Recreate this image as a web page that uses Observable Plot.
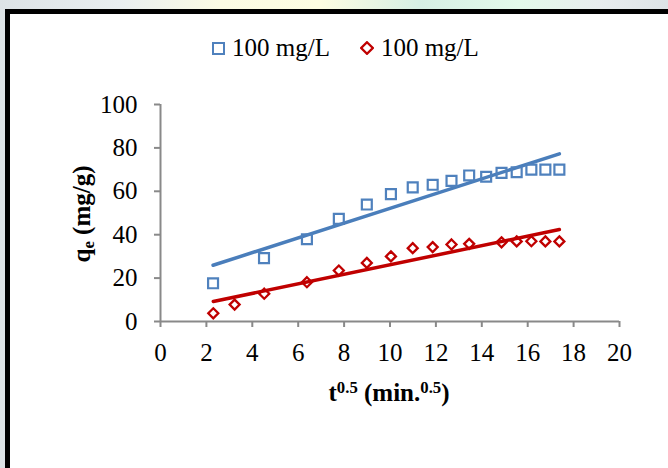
<!DOCTYPE html>
<html><head><meta charset="utf-8">
<script src="https://cdn.jsdelivr.net/npm/d3@7"></script>
<script src="https://cdn.jsdelivr.net/npm/@observablehq/plot@0.6"></script>
<style>
html,body{margin:0;padding:0;width:668px;height:468px;overflow:hidden;
  background:linear-gradient(90deg,#dde3e6 0px,#e9eef0 120px,#fbfbe4 220px,#fdfde2 320px,#d6efe4 420px,#e3faea 520px,#e8ecee 600px,#dde3e6 668px);}
#frame{position:absolute;left:5px;top:9px;width:720px;height:520px;border-left:5px solid #000;border-top:5px solid #000;background:#fff;}
#chart{position:absolute;left:0;top:0;}
.lg{position:absolute;top:34px;left:212px;display:flex;align-items:center;font-family:"Liberation Serif",serif;font-size:25px;color:#000;white-space:nowrap;}
.lg svg{margin-right:7px;}
.xt{position:absolute;left:0;width:778px;top:379px;text-align:center;font-family:"Liberation Serif",serif;font-weight:bold;font-size:25px;}
.yt{position:absolute;left:82px;top:214px;transform:translate(-50%,-50%) rotate(-90deg);font-family:"Liberation Serif",serif;font-weight:bold;font-size:25px;white-space:nowrap;}
sup,sub{font-size:0.67em;}
sup{vertical-align:0.5em;line-height:0;}
sub{vertical-align:-0.22em;line-height:0;}
</style></head>
<body>
<div id="frame"></div>
<div id="chart"></div>
<div class="lg">
  <svg width="13" height="13"><rect x="1" y="1" width="11" height="11" fill="none" stroke="#4F81BD" stroke-width="2"/></svg><span>100 mg/L</span>
  <span style="display:inline-block;width:30px"></span>
  <svg width="14" height="14"><path d="M7,1.2L12.8,7L7,12.8L1.2,7Z" fill="none" stroke="#C00000" stroke-width="2.3"/></svg><span>100 mg/L</span>
</div>
<div class="xt">t<sup>0.5</sup> (min.<sup>0.5</sup>)</div>
<div class="yt">q<sub>e</sub> (mg/g)</div>
<script>
// sqrt(t) values and q_e
const tBlue = [2.29, 4.51, 6.38, 7.77, 8.99, 10.04, 10.99, 11.86, 12.68, 13.45, 14.19, 14.86, 15.52, 16.16, 16.77, 17.38];
const qBlue = [17.6, 29.2, 37.9, 47.3, 53.9, 58.7, 61.8, 63.0, 64.8, 67.3, 66.7, 68.5, 68.8, 70.0, 70.0, 70.0];
const tRed = [2.30, 3.23, 4.52, 6.38, 7.77, 8.99, 10.04, 10.99, 11.86, 12.68, 13.45, 14.86, 15.52, 16.16, 16.77, 17.38];
const qRed = [3.8, 7.8, 12.8, 18.1, 23.5, 27.0, 30.0, 33.8, 34.3, 35.5, 35.8, 36.5, 36.9, 37.0, 36.9, 36.9];
const xTicks = [0, 2, 4, 6, 8, 10, 12, 14, 16, 18, 20];
const yTicks = [0, 20, 40, 60, 80, 100];

const blue = tBlue.map((t, i) => ({t, q: qBlue[i]}));
const red = tRed.map((t, i) => ({t, q: qRed[i]}));
const gray = "#898989";

const chart = Plot.plot({
  width: 668, height: 468,
  marginLeft: 160, marginRight: 49, marginTop: 104, marginBottom: 147,
  x: {domain: [0, 20]},
  y: {domain: [0, 100]},
  style: {fontFamily: "Liberation Serif, serif", fontSize: "25px", background: "transparent", color: "#000"},
  marks: [
    Plot.axisX({ticks: xTicks, tickSize: 6, tickPadding: 16, stroke: gray, strokeWidth: 2, fill: "#000", label: null, fontSize: 25, tickFormat: d => d}),
    Plot.axisY({ticks: yTicks, tickSize: 6, tickPadding: 17, stroke: gray, strokeWidth: 2, fill: "#000", label: null, fontSize: 25, tickFormat: d => d}),
    Plot.ruleY([0], {stroke: gray, strokeWidth: 2}),
    Plot.ruleX([0], {stroke: gray, strokeWidth: 2}),
    Plot.linearRegressionY(blue, {x: "t", y: "q", stroke: "#4A7EBB", strokeWidth: 3.5, ci: 0, strokeLinecap: "round"}),
    Plot.linearRegressionY(red, {x: "t", y: "q", stroke: "#C00000", strokeWidth: 3.5, ci: 0, strokeLinecap: "round"}),
    Plot.dot(blue, {x: "t", y: "q", symbol: "square", r: 5.6, stroke: "#4F81BD", strokeWidth: 2.2, fill: "none"}),
    Plot.dot(red, {x: "t", y: "q", symbol: "diamond2", r: 4.5, stroke: "#C00000", strokeWidth: 2.3, fill: "none"})
  ]
});
document.getElementById("chart").appendChild(chart);
</script>
</body></html>
